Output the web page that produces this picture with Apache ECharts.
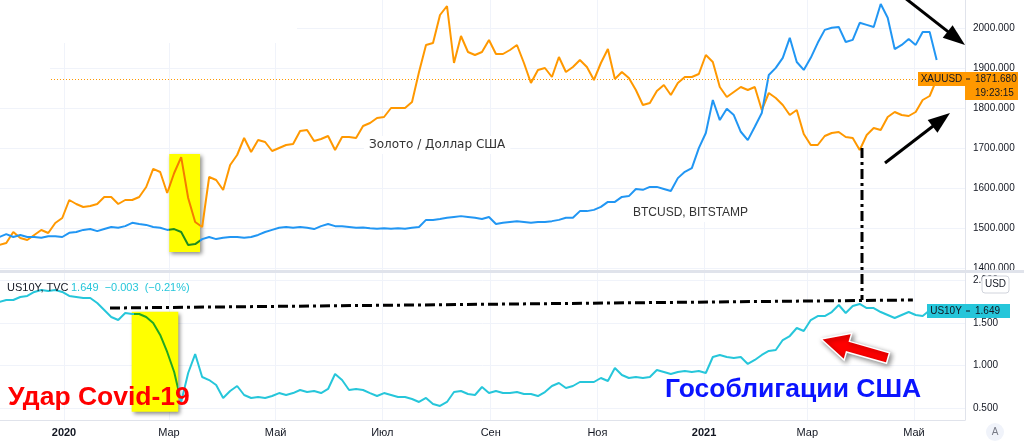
<!DOCTYPE html>
<html>
<head>
<meta charset="utf-8">
<script src="https://cdn.jsdelivr.net/npm/echarts@6/dist/echarts.min.js"></script>
<style>
  html, body { margin: 0; padding: 0; background: #fff; }
  #chart { width: 1024px; height: 442px; }
</style>
</head>
<body>
<div id="chart"></div>
<script>
// every 4 days
const dates = [
  '2019-11-25','2019-11-29','2019-12-03','2019-12-07','2019-12-11','2019-12-15','2019-12-19','2019-12-23','2019-12-27','2019-12-31',
  '2020-01-04','2020-01-08','2020-01-12','2020-01-16','2020-01-20','2020-01-24','2020-01-28','2020-02-01','2020-02-05','2020-02-09',
  '2020-02-13','2020-02-17','2020-02-21','2020-02-25','2020-02-29','2020-03-04','2020-03-08','2020-03-12','2020-03-16','2020-03-20',
  '2020-03-24','2020-03-28','2020-04-01','2020-04-05','2020-04-09','2020-04-13','2020-04-17','2020-04-21','2020-04-25','2020-04-29',
  '2020-05-03','2020-05-07','2020-05-11','2020-05-15','2020-05-19','2020-05-23','2020-05-27','2020-05-31','2020-06-04','2020-06-08',
  '2020-06-12','2020-06-16','2020-06-20','2020-06-24','2020-06-28','2020-07-02','2020-07-06','2020-07-10','2020-07-14','2020-07-18',
  '2020-07-22','2020-07-26','2020-07-30','2020-08-03','2020-08-07','2020-08-11','2020-08-15','2020-08-19','2020-08-23','2020-08-27',
  '2020-08-31','2020-09-04','2020-09-08','2020-09-12','2020-09-16','2020-09-20','2020-09-24','2020-09-28','2020-10-02','2020-10-06',
  '2020-10-10','2020-10-14','2020-10-18','2020-10-22','2020-10-26','2020-10-30','2020-11-03','2020-11-07','2020-11-11','2020-11-15',
  '2020-11-19','2020-11-23','2020-11-27','2020-12-01','2020-12-05','2020-12-09','2020-12-13','2020-12-17','2020-12-21','2020-12-25',
  '2020-12-29','2021-01-02','2021-01-06','2021-01-10','2021-01-14','2021-01-18','2021-01-22','2021-01-26','2021-01-30','2021-02-03',
  '2021-02-07','2021-02-11','2021-02-15','2021-02-19','2021-02-23','2021-02-27','2021-03-03','2021-03-07','2021-03-11','2021-03-15',
  '2021-03-19','2021-03-23','2021-03-27','2021-03-31','2021-04-04','2021-04-08','2021-04-12','2021-04-16','2021-04-20','2021-04-24',
  '2021-04-28','2021-05-02','2021-05-06','2021-05-10','2021-05-14'
];

const gold = [
  1457.5, 1462.5, 1490, 1475, 1470, 1482.5, 1495, 1487.5, 1512.5, 1525,
  1570, 1560, 1552.5, 1555, 1560, 1577.5, 1577.5, 1560, 1570, 1570,
  1577.5, 1602.5, 1648, 1640, 1587.5, 1637.5, 1677, 1575, 1515, 1502.5,
  1627.5, 1620, 1595, 1657.5, 1682.5, 1725, 1690, 1720, 1715, 1692.5,
  1700, 1707.5, 1710, 1742.5, 1745, 1717.5, 1722.5, 1730, 1695, 1727.5,
  1727.5, 1725, 1755, 1762.5, 1775, 1777.5, 1800, 1800, 1800, 1815,
  1890, 1957.5, 1962.5, 2032.5, 2055, 1912.5, 1980, 1940, 1932.5, 1940,
  1970, 1935, 1935, 1945, 1957.5, 1912.5, 1862.5, 1895, 1900, 1877.5,
  1927.5, 1890, 1902.5, 1920, 1902.5, 1870, 1912.5, 1947.5, 1872.5, 1890,
  1875, 1845, 1807.5, 1812.5, 1842.5, 1857.5, 1832.5, 1862.5, 1877.5, 1877.5,
  1885, 1932.5, 1915, 1852.5, 1827.5, 1840, 1852.5, 1845, 1852.5, 1795,
  1837.5, 1825, 1807.5, 1782.5, 1795, 1735, 1707.5, 1707.5, 1730, 1737.5,
  1740, 1727.5, 1725, 1695, 1732.5, 1750, 1745, 1777.5, 1790, 1782.5,
  1780, 1790, 1820, 1830, 1871.68
];

const btc = [
  7200, 7900, 7200, 7700, 7200, 7200, 7000, 7400, 7400, 7200,
  8200, 8400, 8900, 9100, 8600, 9100, 9600, 9400, 9800, 10600,
  10300, 10100, 9600, 9400, 8900, 9100, 8400, 5300, 5500, 6700,
  7200, 6700, 7000, 7200, 7200, 7000, 7200, 7700, 8400, 8900,
  9400, 9600, 9400, 9600, 9400, 9100, 9800, 10300, 9800, 9800,
  9600, 9400, 9500, 9300, 9200, 9300, 9200, 9300, 9200, 9400,
  9600, 11300, 11300, 11500, 11800, 12000, 12200, 12000, 11800, 11500,
  12000, 10300, 10600, 10800, 11000, 10800, 10600, 10800, 10800, 11000,
  11300, 11800, 11800, 13400, 13400, 13700, 14400, 15600, 15600, 16800,
  17000, 18700, 18500, 19200, 19200, 18700, 18200, 21300, 22800, 23700,
  28500, 32100, 40000, 35200, 37900, 36400, 32400, 30400, 33600, 36900,
  46000, 47700, 50100, 54900, 49100, 47200, 50100, 53700, 56800, 57300,
  57500, 53900, 54400, 58500, 58000, 57500, 63000, 59700, 52200, 53200,
  54600, 53200, 56300, 56300, 49600
];

const us10y = [
  1.747, 1.771, 1.771, 1.806, 1.818, 1.865, 1.888, 1.876, 1.888, 1.865,
  1.818, 1.806, 1.794, 1.794, 1.735, 1.653, 1.571, 1.535, 1.618, 1.606,
  1.606, 1.571, 1.500, 1.359, 1.159, 0.924, 0.570, 0.912, 1.135, 0.865,
  0.829, 0.771, 0.618, 0.700, 0.759, 0.653, 0.618, 0.629, 0.618, 0.641,
  0.676, 0.653, 0.676, 0.712, 0.688, 0.700, 0.676, 0.724, 0.900, 0.829,
  0.712, 0.724, 0.712, 0.676, 0.641, 0.676, 0.653, 0.629, 0.629, 0.606,
  0.571, 0.618, 0.547, 0.524, 0.571, 0.688, 0.700, 0.665, 0.653, 0.747,
  0.676, 0.700, 0.676, 0.676, 0.688, 0.665, 0.665, 0.641, 0.688, 0.759,
  0.794, 0.735, 0.759, 0.806, 0.806, 0.806, 0.853, 0.818, 0.971, 0.888,
  0.853, 0.865, 0.853, 0.865, 0.947, 0.924, 0.900, 0.924, 0.935, 0.924,
  0.935, 0.912, 1.100, 1.124, 1.100, 1.088, 1.100, 1.018, 1.065, 1.124,
  1.171, 1.182, 1.300, 1.347, 1.441, 1.406, 1.535, 1.582, 1.582, 1.629,
  1.712, 1.618, 1.700, 1.724, 1.676, 1.676, 1.629, 1.594, 1.559, 1.594,
  1.629, 1.594, 1.582, 1.649
];

const monthTicks = ['2020-01-01', '2020-03-01', '2020-05-01', '2020-07-01', '2020-09-01',
  '2020-11-01', '2021-01-01', '2021-03-01', '2021-05-01'];
const monthNames = ['Янв', 'Фев', 'Мар', 'Апр', 'Май', 'Июн', 'Июл', 'Авг', 'Сен', 'Окт', 'Ноя', 'Дек'];
const goldTicks = [1400, 1500, 1600, 1700, 1800, 1900, 2000];
const yieldTicks = [0.5, 1, 1.5, 2];

const DAY = 86400000;
const t = (s) => new Date(s + 'T00:00:00').getTime();
const xMin = t('2019-11-25') + 0.4 * DAY;
const xMax = t('2021-05-30') + 0.2 * DAY;
const monthValues = monthTicks.map(t);

const textColor = '#131722';
const gridColor = '#f0f3fa';
const borderColor = '#e0e3eb';
const font = 'Liberation Sans, Arial, sans-serif';

// value axis holding timestamps, so custom month ticks work
const makeX = (gridIndex, showLabels) => ({
  type: 'value',
  gridIndex,
  min: xMin,
  max: xMax,
  axisLine: { show: showLabels, onZero: false, lineStyle: { color: borderColor } },
  axisTick: { show: false, customValues: monthValues },
  axisLabel: {
    show: showLabels,
    customValues: monthValues,
    color: textColor,
    fontSize: 11,
    fontFamily: font,
    margin: 7,
    formatter: (v) => {
      const d = new Date(v)
      return d.getMonth() === 0 ? '{y|' + d.getFullYear() + '}' : monthNames[d.getMonth()]
    },
    rich: { y: { fontWeight: 'bold', color: textColor, fontSize: 11, fontFamily: font } }
  },
  splitLine: { show: true, lineStyle: { color: gridColor } }
});

const makeY = (gridIndex, min, max, ticks, digits) => ({
  type: 'value',
  gridIndex,
  position: 'right',
  min,
  max,
  axisLine: { show: true, onZero: false, lineStyle: { color: borderColor } },
  axisTick: { show: false, customValues: ticks },
  axisLabel: {
    customValues: ticks,
    color: textColor,
    fontSize: 10,
    fontFamily: font,
    margin: 8,
    formatter: (v) => v.toFixed(digits)
  },
  splitLine: { show: true, lineStyle: { color: gridColor } }
});

// arrow = shaft + head
function arrow(x1, y1, x2, y2, len, half, color, w) {
  const a = Math.atan2(y2 - y1, x2 - x1), c = Math.cos(a), s = Math.sin(a)
  const bx = x2 - len * c, by = y2 - len * s
  return [
    { type: 'line', z: 100, shape: { x1, y1, x2: bx + c * 2, y2: by + s * 2 }, style: { stroke: color, lineWidth: w } },
    { type: 'polygon', z: 100, shape: { points: [[x2, y2], [bx - half * s, by + half * c], [bx + half * s, by - half * c]] }, style: { fill: color } }
  ]
}

function fatArrow(x1, y1, x2, y2, shaft, head, headLen) {
  const a = Math.atan2(y2 - y1, x2 - x1), c = Math.cos(a), s = Math.sin(a)
  const bx = x2 - headLen * c, by = y2 - headLen * s
  const nx = -s, ny = c
  const pts = [
    [x1 + nx * shaft, y1 + ny * shaft],
    [bx + nx * shaft, by + ny * shaft],
    [bx + nx * head, by + ny * head],
    [x2, y2],
    [bx - nx * head, by - ny * head],
    [bx - nx * shaft, by - ny * shaft],
    [x1 - nx * shaft, y1 - ny * shaft]
  ]
  return {
    type: 'polygon', z: 100, shape: { points: pts },
    style: { fill: '#ff0000', stroke: '#ffffff', lineWidth: 1.5, shadowBlur: 5, shadowColor: 'rgba(0,0,0,0.45)', shadowOffsetX: 2, shadowOffsetY: 2 }
  }
}

const txt = (x, y, text, f, fill, extra) => ({
  type: 'text', z: 101, x, y,
  style: Object.assign({ text, font: f, fill, verticalAlign: 'middle' }, extra || {})
});

const graphics = [
  // covered legend area
  { type: 'rect', z: 50, shape: { x: 0, y: 0, width: 297, height: 43 }, style: { fill: '#fff' } },
  { type: 'rect', z: 50, shape: { x: 0, y: 0, width: 50, height: 100 }, style: { fill: '#fff' } },
  // pane separator
  { type: 'rect', z: 60, shape: { x: 0, y: 270, width: 1024, height: 3 }, style: { fill: borderColor } },
  { type: 'rect', z: 60, shape: { x: 966, y: 273, width: 58, height: 2 }, style: { fill: '#fff' } },
  // series labels
  txt(364, 145, 'Золото / Доллар США', '12px DejaVu Sans', '#333', { backgroundColor: '#fff', padding: [3, 5] }),
  txt(628, 213, 'BTCUSD, BITSTAMP', '12px ' + font, '#333', { backgroundColor: '#fff', padding: [3, 5] }),
  txt(7, 288, 'US10Y, TVC', '11px ' + font, textColor),
  txt(71, 288, '1.649  −0.003  (−0.21%)', '11px ' + font, '#26c6da'),
  // last value boxes
  { type: 'rect', z: 100, shape: { x: 918, y: 72, width: 47, height: 14 }, style: { fill: '#ff9800' } },
  txt(941.5, 79, 'XAUUSD', '10px ' + font, textColor, { align: 'center' }),
  { type: 'rect', z: 100, shape: { x: 965, y: 72, width: 53, height: 28 }, style: { fill: '#ff9800' } },
  { type: 'line', z: 101, shape: { x1: 966, y1: 79, x2: 970, y2: 79 }, style: { stroke: textColor, lineWidth: 1 } },
  txt(975, 79, '1871.680', '10px ' + font, textColor),
  txt(975, 93, '19:23:15', '10px ' + font, textColor),
  { type: 'rect', z: 100, shape: { x: 927, y: 304, width: 38, height: 14 }, style: { fill: '#26c6da' } },
  txt(946, 311, 'US10Y', '10px ' + font, textColor, { align: 'center' }),
  { type: 'rect', z: 100, shape: { x: 965, y: 304, width: 45, height: 14 }, style: { fill: '#26c6da' } },
  { type: 'line', z: 101, shape: { x1: 966, y1: 311, x2: 970, y2: 311 }, style: { stroke: textColor, lineWidth: 1 } },
  txt(975, 311, '1.649', '10px ' + font, textColor),
  { type: 'rect', z: 100, shape: { x: 982, y: 276, width: 27, height: 17, r: 3 }, style: { fill: '#fff', stroke: '#d1d4dc', lineWidth: 1 } },
  txt(995.5, 284.5, 'USD', '10px ' + font, textColor, { align: 'center' }),
  { type: 'circle', z: 100, shape: { cx: 995, cy: 432, r: 9 }, style: { fill: '#f0f3fa' } },
  txt(995, 432, 'A', '10px ' + font, '#787b86', { align: 'center' }),
  // annotations
  { type: 'line', z: 90, shape: { x1: 862, y1: 148, x2: 862, y2: 300 }, style: { stroke: '#000', lineWidth: 3, lineDash: [10, 4, 3, 4] } },
  ...arrow(905, -2, 965, 45, 22, 8, '#000', 3),
  ...arrow(885, 163, 950, 113, 22, 8, '#000', 3),
  fatArrow(888, 358, 821, 339, 5.5, 14, 28),
  txt(8, 398, 'Удар Covid-19', 'bold 26.5px ' + font, '#ff0000'),
  txt(665, 390, 'Гособлигации США', 'bold 26.5px ' + font, '#0a14ff')
];

const chart = echarts.init(document.getElementById('chart'));
chart.setOption({
  animation: false,
  backgroundColor: '#fff',
  grid: [
    { left: 0, right: 59, top: 0, bottom: 172 },
    { left: 0, right: 59, top: 272, bottom: 22 }
  ],
  xAxis: [makeX(0, false), makeX(1, true)],
  yAxis: [
    makeY(0, 1395, 2070, goldTicks, 3),
    { type: 'value', gridIndex: 0, min: -700, max: 63950, show: false, splitLine: { show: false } },
    makeY(1, 0.359, 2.1, yieldTicks, 3)
  ],
  visualMap: [
    { type: 'piecewise', show: false, seriesIndex: 0, dimension: 0,
      pieces: [{ gte: t('2020-03-01') + 0.2 * DAY, lte: t('2020-03-18') + 0.8 * DAY, color: '#f57c00' }],
      outOfRange: { color: '#ff9800' } },
    { type: 'piecewise', show: false, seriesIndex: 1, dimension: 0,
      pieces: [{ gte: t('2020-03-01') + 0.2 * DAY, lte: t('2020-03-18') + 0.8 * DAY, color: '#1e8c1e' }],
      outOfRange: { color: '#2196f3' } },
    { type: 'piecewise', show: false, seriesIndex: 2, dimension: 0,
      pieces: [{ gte: t('2020-02-10'), lte: t('2020-03-06') + 0.35 * DAY, color: '#22a822' }],
      outOfRange: { color: '#26c6da' } }
  ],
  series: [
    {
      name: 'XAUUSD', type: 'line', xAxisIndex: 0, yAxisIndex: 0,
      data: dates.map((d, i) => [t(d), gold[i]]),
      showSymbol: false, lineStyle: { width: 2 },
      markLine: {
        silent: true, symbol: 'none', label: { show: false },
        lineStyle: { color: '#ff9800', type: [1, 2], width: 1 },
        data: [{ yAxis: 1871.68 }]
      },
      markArea: {
        silent: true,
        itemStyle: { color: '#ffff00', shadowBlur: 4, shadowColor: 'rgba(0,0,0,0.45)', shadowOffsetX: 2, shadowOffsetY: 2 },
        data: [[{ xAxis: t('2020-03-01') + 0.2 * DAY, yAxis: 1685 }, { xAxis: t('2020-03-18') + 0.8 * DAY, yAxis: 1440 }]]
      }
    },
    {
      name: 'BTCUSD', type: 'line', xAxisIndex: 0, yAxisIndex: 1,
      data: dates.map((d, i) => [t(d), btc[i]]),
      showSymbol: false, lineStyle: { width: 2 }
    },
    {
      name: 'US10Y', type: 'line', xAxisIndex: 1, yAxisIndex: 2,
      data: us10y.map((v, i) => [t(dates[i]), v]),
      showSymbol: false, lineStyle: { width: 2 },
      markLine: {
        silent: true, symbol: 'none', label: { show: false },
        lineStyle: { color: '#000', type: [10, 4, 3, 4], width: 3 },
        data: [[{ coord: [t('2020-01-27') + 0.3 * DAY, 1.676] }, { coord: [t('2021-04-30') + 0.4 * DAY, 1.771] }]]
      },
      markArea: {
        silent: true,
        itemStyle: { color: '#ffff00', shadowBlur: 4, shadowColor: 'rgba(0,0,0,0.45)', shadowOffsetX: 2, shadowOffsetY: 2 },
        data: [[{ xAxis: t('2020-02-08') + 0.7 * DAY, yAxis: 1.633 }, { xAxis: t('2020-03-06') + 0.35 * DAY, yAxis: 0.456 }]]
      }
    }
  ],
  graphic: graphics
});
</script>
</body>
</html>
